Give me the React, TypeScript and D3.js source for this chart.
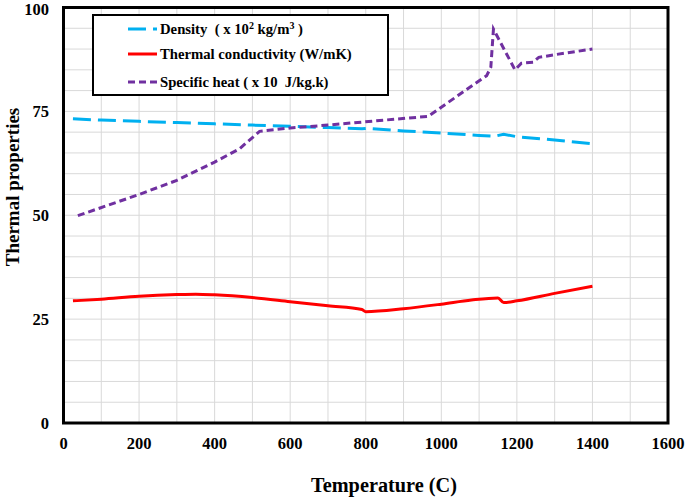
import React from "react";
import * as d3 from "d3";

const densityT = [25, 100, 200, 300, 400, 500, 600, 700, 790, 800, 900, 1000, 1100, 1140, 1165, 1200, 1300, 1400];
const densityV = [73.2, 72.9, 72.6, 72.3, 72.0, 71.7, 71.4, 71.1, 70.8, 70.9, 70.3, 69.8, 69.2, 69.0, 69.5, 68.9, 68.1, 67.2];

const condT = [25, 100, 200, 300, 350, 400, 500, 600, 700, 790, 800, 900, 1000, 1080, 1150, 1165, 1200, 1300, 1400];
const condV = [29.4, 29.8, 30.5, 30.9, 31.0, 30.85, 30.2, 29.2, 28.2, 27.3, 26.8, 27.5, 28.6, 29.6, 30.1, 29.0, 29.4, 31.2, 32.9];

const cpT = [38, 200, 300, 400, 466, 519, 600, 700, 837, 965, 1120, 1131, 1138, 1195, 1212, 1243, 1258, 1305, 1400];
const cpV = [49.9, 55.0, 58.4, 62.8, 66.0, 70.2, 71.0, 71.7, 72.8, 73.8, 83.6, 85.6, 94.8, 85.0, 86.6, 86.8, 88.0, 88.7, 90.0];

const xTicks = [0, 200, 400, 600, 800, 1000, 1200, 1400, 1600];
const yTicks = [0, 25, 50, 75, 100];

const FONT = "'Liberation Serif', 'Times New Roman', serif";

export default function App() {
  const W = 685, H = 497;
  const L = 63.5, R = 668, T = 7.5, B = 423;
  const x = d3.scaleLinear().domain([0, 1600]).range([L, R]);
  const y = d3.scaleLinear().domain([0, 100]).range([B, T]);

  const mk = (ts: number[], vs: number[], curve: any) =>
    d3.line<number>().x((_, i) => x(ts[i])).y((v) => y(v)).curve(curve)(vs) || "";

  const densityPath = mk(densityT, densityV, d3.curveLinear);
  const condPath = mk(condT, condV, d3.curveMonotoneX);
  const cpPath = mk(cpT, cpV, d3.curveLinear);

  const vGrid = d3.range(0, 1601, 100);
  const hGrid = d3.range(0, 101, 5);

  const blue = "#00B0F0", red = "#FF0000", purple = "#7030A0";

  return (
    <svg width={W} height={H} style={{ position: "absolute", left: 0, top: 0, background: "#fff" }}>
      <rect x={0} y={0} width={W} height={H} fill="#fff" />
      <g stroke="#d9d9d9" strokeWidth={1}>
        {vGrid.map((v) => (
          <line key={"v" + v} x1={x(v)} x2={x(v)} y1={T} y2={B} />
        ))}
        {hGrid.map((v) => (
          <line key={"h" + v} x1={L} x2={R} y1={y(v)} y2={y(v)} />
        ))}
      </g>
      <path d={densityPath} fill="none" stroke={blue} strokeWidth={3} strokeDasharray="18,7" />
      <path d={condPath} fill="none" stroke={red} strokeWidth={3} />
      <path d={cpPath} fill="none" stroke={purple} strokeWidth={3} strokeDasharray="7,4" />
      <rect x={L} y={T} width={R - L} height={B - T} fill="none" stroke="#000" strokeWidth={3} />

      <g fontFamily={FONT} fontWeight="bold" fontSize={16.5} fill="#000">
        {yTicks.map((v) => (
          <text key={"yt" + v} x={49} y={Math.max(y(v), 9)} textAnchor="end" dominantBaseline="central">
            {v}
          </text>
        ))}
        {xTicks.map((v) => (
          <text key={"xt" + v} x={x(v)} y={443} textAnchor="middle" dominantBaseline="central">
            {v}
          </text>
        ))}
      </g>
      <text x={384} y={485} textAnchor="middle" dominantBaseline="central" fontFamily={FONT} fontWeight="bold" fontSize={20.3}>
        Temperature (C)
      </text>
      <text
        transform={`translate(12,187) rotate(-90)`}
        textAnchor="middle"
        dominantBaseline="central"
        fontFamily={FONT}
        fontWeight="bold"
        fontSize={19}
      >
        Thermal properties
      </text>

      <g>
        <rect x={93} y={15} width={295} height={80} fill="#fff" stroke="#000" strokeWidth={2} />
        <line x1={128} x2={157} y1={29} y2={29} stroke={blue} strokeWidth={3} strokeDasharray="18,7" />
        <line x1={128} x2={157} y1={54} y2={54} stroke={red} strokeWidth={3} />
        <line x1={128} x2={157} y1={82} y2={82} stroke={purple} strokeWidth={3} strokeDasharray="7,4" />
        <g fontFamily={FONT} fontWeight="bold" fontSize={14.7} fill="#000">
          <text x={160} y={34} xmlSpace="preserve">
            {"Density  ( x 10"}<tspan fontSize={10} dy={-5}>2</tspan>
            <tspan dy={5}>{" kg/m"}</tspan>
            <tspan fontSize={10} dy={-5}>3</tspan>
            <tspan dy={5}>{" )"}</tspan>
          </text>
          <text x={160} y={59}>Thermal conductivity (W/mK)</text>
          <text x={160} y={87} xmlSpace="preserve">{"Specific heat ( x 10  J/kg.k)"}</text>
        </g>
      </g>
    </svg>
  );
}
